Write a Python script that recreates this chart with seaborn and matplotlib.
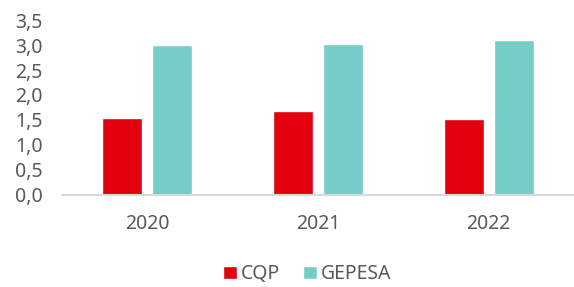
import pandas as pd
import seaborn as sns
import matplotlib.pyplot as plt

years = ["2020", "2021", "2022"]
series = ["CQP", "GEPESA"]
cqp = [1.54, 1.68, 1.52]
gepesa = [3.0, 3.02, 3.1]
yticks = [0.0, 0.5, 1.0, 1.5, 2.0, 2.5, 3.0, 3.5]

df = pd.DataFrame({
    "year": years * 2,
    "serie": [series[0]] * 3 + [series[1]] * 3,
    "value": cqp + gepesa,
})

sns.set_style("white")
plt.rcParams['font.family'] = ['Noto Sans', 'DejaVu Sans']
grey = "#595959"

fig = plt.figure(figsize=(5.74, 2.87), dpi=100)
ax = fig.add_axes([0.108, 0.321, 0.892, 0.609])
sns.barplot(data=df, x="year", y="value", hue="serie", ax=ax,
            palette=["#E3000F", "#76CDC8"], width=0.586, gap=0.2,
            saturation=1, legend=True)

ax.set_ylim(0, 3.5)
ax.set_xlim(-0.5, 2.5)
ax.set_yticks(yticks)
ax.set_yticklabels([f"{v:.1f}".replace(".", ",") for v in yticks])
ax.set_xlabel("")
ax.set_ylabel("")
ax.tick_params(axis="both", colors=grey, labelsize=14, length=0)
ax.tick_params(axis="x", pad=14)
ax.tick_params(axis="y", pad=14)
for s in ["top", "right", "left"]:
    ax.spines[s].set_visible(False)
ax.spines["bottom"].set_color("#D9D9D9")
ax.spines["bottom"].set_linewidth(1.5)

handles, labels = ax.get_legend_handles_labels()
ax.get_legend().remove()
fig.legend(handles, labels, loc="lower center", bbox_to_anchor=(0.535, -0.052),
           ncol=2, frameon=False, fontsize=14, labelcolor=grey,
           handlelength=0.7, handleheight=0.7, handletextpad=0.2,
           columnspacing=1.2)

fig.savefig("out.png", dpi=100)
